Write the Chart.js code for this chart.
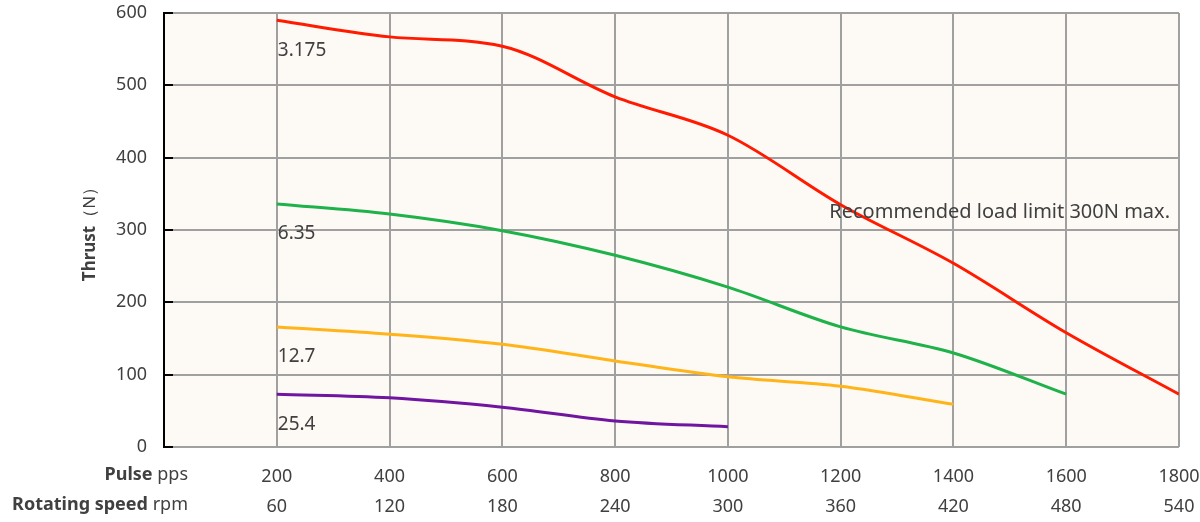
<!DOCTYPE html>
<html>
<head>
<meta charset="utf-8">
<script src="https://cdn.jsdelivr.net/npm/chart.js@4"></script>
<style>
  html, body { margin: 0; padding: 0; background: #fff; }
  #wrap { width: 1200px; height: 522px; }
</style>
</head>
<body>
<div id="wrap"><canvas id="thrustChart" width="1200" height="522"></canvas></div>
<script>
// data
const pulses = [200, 400, 600, 800, 1000, 1200, 1400, 1600, 1800];
const rpmLabels = ["60", "120", "180", "240", "300", "360", "420", "480", "540"];
const yTicks = [0, 100, 200, 300, 400, 500, 600];

const lead3175 = [590, 567, 554, 484, 431, 335, 254, 158, 73];
const lead635 = [336, 322, 299, 265, 221, 166, 130, 73];
const lead127 = [166, 156, 142, 119, 97, 84, 59];
const lead254 = [73, 68, 55, 36, 28];

const seriesNames = ["3.175", "6.35", "12.7", "25.4"];
const noteText = "Recommended load limit 300N max.";

const FONT = "'Noto Sans', 'Open Sans', sans-serif";
const TEXT = '#404040';

function pts(values) {
    return values.map((v, i) => ({ x: pulses[i], y: v }));
}

function lineSet(label, values, color) {
    return {
        label: label,
        data: pts(values),
        borderColor: color,
        backgroundColor: color,
        borderWidth: 3,
        pointRadius: 0,
        cubicInterpolationMode: 'monotone',
        fill: false
    };
}

const thrustData = {
    datasets: [
        lineSet(seriesNames[0], lead3175, '#ff1a00'),
        lineSet(seriesNames[1], lead635, '#1fb24a'),
        lineSet(seriesNames[2], lead127, '#ffb41a'),
        lineSet(seriesNames[3], lead254, '#7015a0')
    ]
};

// plot background, axis, ticks and the extra texts
const extras = {
    id: 'extras',
    beforeDraw(chart) {
        const { ctx, chartArea: a } = chart;
        ctx.save();
        ctx.fillStyle = '#fdf9f5';
        ctx.fillRect(a.left, a.top, a.right - a.left, a.bottom - a.top);
        ctx.restore();
    },
    afterDraw(chart) {
        const { ctx, chartArea: a, scales } = chart;
        const x = scales.x, y = scales.y;
        ctx.save();
        // left axis + inward ticks
        ctx.strokeStyle = '#000';
        ctx.lineWidth = 2;
        ctx.beginPath();
        ctx.moveTo(a.left, a.top - 1);
        ctx.lineTo(a.left, a.bottom + 1);
        yTicks.forEach(t => {
            const py = Math.round(y.getPixelForValue(t));
            ctx.moveTo(a.left, py);
            ctx.lineTo(a.left + 9, py);
        });
        ctx.stroke();

        // series labels under each curve start
        ctx.fillStyle = TEXT;
        ctx.font = '19px ' + FONT;
        ctx.textAlign = 'left';
        ctx.textBaseline = 'middle';
        const firsts = [lead3175[0], lead635[0], lead127[0], lead254[0]];
        const x0 = x.getPixelForValue(pulses[0]) + 1;
        firsts.forEach((v, i) => {
            ctx.fillText(seriesNames[i], x0, y.getPixelForValue(v) + 30);
        });

        // note
        ctx.font = '20px ' + FONT;
        ctx.textAlign = 'right';
        ctx.fillText(noteText, a.right - 9, y.getPixelForValue(324));

        // row titles under x axis
        const rows = [["Pulse", " pps"], ["Rotating speed", " rpm"]];
        const rowY = [475, 505];
        rows.forEach((r, i) => {
            ctx.font = '18px ' + FONT;
            const w2 = ctx.measureText(r[1]).width;
            ctx.textAlign = 'right';
            ctx.fillText(r[1], 188, rowY[i]);
            ctx.font = 'bold 18px ' + FONT;
            ctx.fillText(r[0], 188 - w2, rowY[i]);
        });

        // y title
        ctx.translate(90, (a.top + a.bottom) / 2);
        ctx.rotate(-Math.PI / 2);
        ctx.font = 'bold 17px ' + FONT;
        const t1 = 'Thrust';
        const t2 = '（N）';
        const w1 = ctx.measureText(t1).width;
        ctx.font = '17px ' + FONT;
        const w2 = ctx.measureText(t2).width;
        const start = -(w1 + w2) / 2;
        ctx.textAlign = 'left';
        ctx.font = 'bold 17px ' + FONT;
        ctx.fillText(t1, start, 0);
        ctx.font = '17px ' + FONT;
        ctx.fillText(t2, start + w1, 0);
        ctx.restore();
    }
};

const thrustChart = document.getElementById('thrustChart');

new Chart(thrustChart, {
    type: 'line',
    data: thrustData,
    plugins: [extras],
    options: {
        responsive: false,
        animation: false,
        layout: {
            padding: { top: 13, right: 21, left: 0, bottom: 0 }
        },
        plugins: {
            legend: { display: false },
            title: { display: false },
            tooltip: { enabled: false }
        },
        scales: {
            x: {
                type: 'linear',
                min: 0,
                max: 1800,
                afterFit(scale) {
                    scale.height = 75;
                    scale.paddingLeft = 0;
                    scale.paddingRight = 0;
                },
                afterBuildTicks(scale) {
                    scale.ticks = [0].concat(pulses).map(v => ({ value: v }));
                },
                grid: {
                    color: '#a0a0a0',
                    lineWidth: 2,
                    drawTicks: false
                },
                border: { display: false },
                ticks: {
                    color: TEXT,
                    font: { family: FONT, size: 18, lineHeight: 1.67 },
                    padding: 15,
                    maxRotation: 0,
                    autoSkip: false,
                    callback(v) {
                        const i = pulses.indexOf(v);
                        if (i < 0) return '';
                        return [String(v), rpmLabels[i]];
                    }
                }
            },
            y: {
                min: 0,
                max: 600,
                afterFit(scale) {
                    scale.width = 164;
                    scale.paddingTop = 0;
                    scale.paddingBottom = 0;
                },
                afterBuildTicks(scale) {
                    scale.ticks = yTicks.map(v => ({ value: v }));
                },
                grid: {
                    color: '#a0a0a0',
                    lineWidth: 2,
                    drawTicks: false
                },
                border: { display: false },
                ticks: {
                    color: TEXT,
                    font: { family: FONT, size: 18 },
                    padding: 17
                }
            }
        }
    }
});
</script>
</body>
</html>
